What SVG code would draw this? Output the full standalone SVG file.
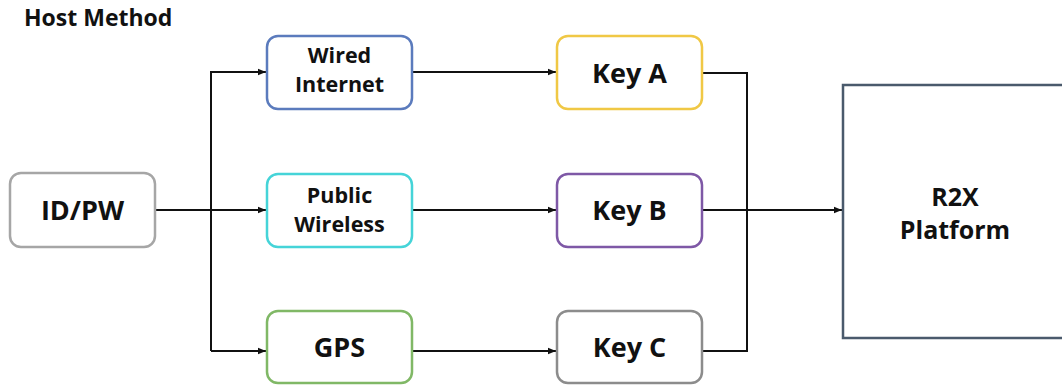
<svg xmlns="http://www.w3.org/2000/svg" width="1062" height="385" viewBox="0 0 1062 385">
<style>
.box{fill:#fff;stroke-width:2.5}
.t{font-family:"Open Sans","Liberation Sans",sans-serif;font-weight:700;fill:#111;text-anchor:middle}
.big{font-size:27px}
.mid{font-size:21.5px}
.con{fill:none;stroke:#111;stroke-width:2}
</style>
<defs>
<marker id="arr" viewBox="0 0 10 10" refX="10" refY="5" markerWidth="8" markerHeight="8" markerUnits="userSpaceOnUse" orient="auto">
<path d="M0,1 L10,5 L0,9 z" fill="#111"/>
</marker>
</defs>
<rect width="1062" height="385" fill="#fff"/>
<text x="24" y="26" class="t" style="font-size:23px;text-anchor:start">Host Method</text>
<g id="connectors">
<path class="con" d="M155,210 H266" marker-end="url(#arr)"/>
<path class="con" d="M211,351 V72 H266" marker-end="url(#arr)"/>
<path class="con" d="M211,351 H266" marker-end="url(#arr)"/>
<path class="con" d="M412,72 H556" marker-end="url(#arr)"/>
<path class="con" d="M412,210 H556" marker-end="url(#arr)"/>
<path class="con" d="M412,351 H556" marker-end="url(#arr)"/>
<path class="con" d="M702,73 H747 V351 H702"/>
<path class="con" d="M702,210 H842" marker-end="url(#arr)"/>
</g>
<g id="idpw">
<rect class="box" x="10" y="173" width="145" height="74" rx="11" stroke="#a6a6a6"/>
<text class="t big" x="82.5" y="220">ID/PW</text>
</g>
<g id="wired">
<rect class="box" x="267" y="36" width="145" height="73" rx="11" stroke="#5b7bbd"/>
<text class="t mid" x="339.5" y="63">Wired</text>
<text class="t mid" x="339.5" y="92">Internet</text>
</g>
<g id="public">
<rect class="box" x="267" y="174" width="145" height="73" rx="11" stroke="#45d4d8"/>
<text class="t mid" x="339.5" y="203">Public</text>
<text class="t mid" x="339.5" y="232">Wireless</text>
</g>
<g id="gps">
<rect class="box" x="267" y="311" width="145" height="72" rx="11" stroke="#80b866"/>
<text class="t big" x="339.5" y="357">GPS</text>
</g>
<g id="keya">
<rect class="box" x="557" y="36" width="145" height="73" rx="11" stroke="#f0c845"/>
<text class="t big" x="629.5" y="83">Key A</text>
</g>
<g id="keyb">
<rect class="box" x="557" y="174" width="145" height="73" rx="11" stroke="#7e58a6"/>
<text class="t big" x="629.5" y="220">Key B</text>
</g>
<g id="keyc">
<rect class="box" x="557" y="311" width="145" height="72" rx="11" stroke="#8c8c8c"/>
<text class="t big" x="629.5" y="357">Key C</text>
</g>
<g id="r2x">
<rect class="box" x="843" y="85" width="232" height="253" stroke="#4a5a6c"/>
<text class="t" style="font-size:25px" x="955" y="206">R2X</text>
<text class="t" style="font-size:25px" x="955" y="239">Platform</text>
</g>
</svg>
